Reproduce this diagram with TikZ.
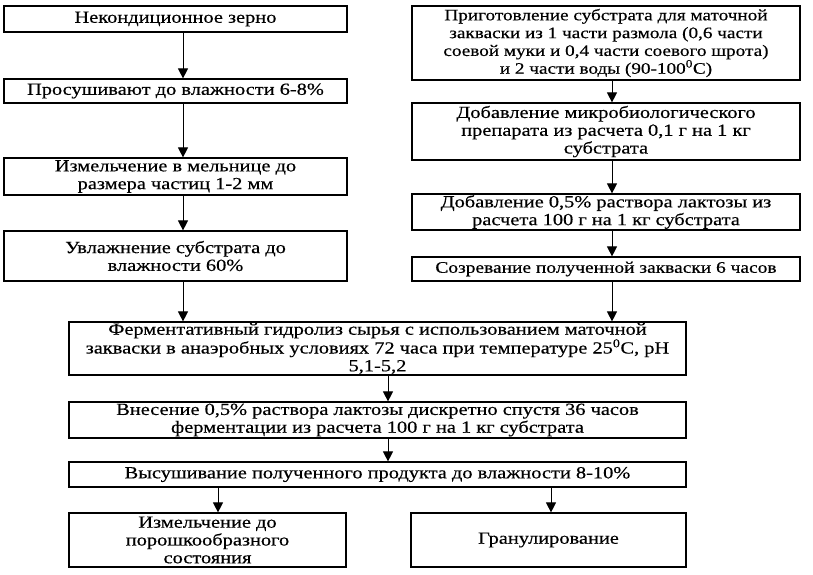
\documentclass[tikz,border=0pt]{standalone}
\usepackage{fontspec}
\setmainfont{Liberation Serif}[FakeStretch=1.2,FakeBold=0.4]
\usetikzlibrary{arrows.meta}
\tikzset{
  box/.style={draw, line width=1.2pt, inner sep=0pt, align=center,
    font=\fontsize{17pt}{17.8pt}\selectfont},
  arr/.style={line width=1pt, -{Triangle[length=10pt,width=10pt]}}
}
\begin{document}
\begin{tikzpicture}[x=1pt,y=-1pt]
\useasboundingbox[fill=white] (0,0) rectangle (813,574);
% left column
\node[box, minimum width=343pt, minimum height=26pt] (L1) at (175.5,19) {Некондиционное зерно};
\node[box, minimum width=343pt, minimum height=24pt] (L2) at (175.5,91) {Просушивают до влажности 6-8\%};
\node[box, minimum width=343pt, minimum height=37pt] (L3) at (175.5,176.5) {Измельчение в мельнице до\\размера частиц 1-2 мм};
\node[box, minimum width=343pt, minimum height=50pt] (L4) at (175.5,256) {Увлажнение субстрата до\\влажности 60\%};
% right column
\node[box, font=\fontsize{16pt}{17.8pt}\selectfont, minimum width=388pt, minimum height=74pt] (R1) at (606,43) {Приготовление субстрата для маточной\\закваски из 1 части размола (0,6 части\\соевой муки и 0,4 части соевого шрота)\\и 2 части воды (90-100\textsuperscript{0}С)};
\node[box, minimum width=388pt, minimum height=57pt] (R2) at (606,131.5) {Добавление микробиологического\\препарата из расчета 0,1 г на 1 кг\\субстрата};
\node[box, minimum width=388pt, minimum height=36pt] (R3) at (606,212) {Добавление 0,5\% раствора лактозы из\\расчета 100 г на 1 кг субстрата};
\node[box, font=\fontsize{16.2pt}{17.8pt}\selectfont, minimum width=388pt, minimum height=24pt] (R4) at (606,269) {Созревание полученной закваски 6 часов};
% main column
\node[box, minimum width=617pt, minimum height=53pt] (M1) at (377.5,348.5) {Ферментативный гидролиз сырья с использованием маточной\\закваски в анаэробных условиях 72 часа при температуре 25\textsuperscript{0}С, рН\\5,1-5,2};
\node[box, minimum width=617pt, minimum height=36pt] (M2) at (377.5,420) {Внесение 0,5\% раствора лактозы дискретно спустя 36 часов\\ферментации из расчета 100 г на 1 кг субстрата};
\node[box, minimum width=617pt, minimum height=25pt] (M3) at (377.5,474.5) {Высушивание полученного продукта до влажности 8-10\%};
\node[box, minimum width=277pt, minimum height=54pt] (B1) at (207.5,540) {Измельчение до\\порошкообразного\\состояния};
\node[box, minimum width=275pt, minimum height=54pt] (B2) at (548.5,540) {Гранулирование};
% connectors
\draw[arr] ([xshift=7.5pt]L1.south) -- ([xshift=7.5pt]L2.north);
\draw[arr] ([xshift=7.5pt]L2.south) -- ([xshift=7.5pt]L3.north);
\draw[arr] ([xshift=7.5pt]L3.south) -- ([xshift=7.5pt]L4.north);
\draw[arr] ([xshift=6pt]R1.south) -- ([xshift=6pt]R2.north);
\draw[arr] ([xshift=6pt]R2.south) -- ([xshift=6pt]R3.north);
\draw[arr] ([xshift=6pt]R3.south) -- ([xshift=6pt]R4.north);
\draw[arr] ([xshift=7.5pt]L4.south) -- ([xshift=7.5pt]L4.south |- M1.north);
\draw[arr] ([xshift=6pt]R4.south) -- ([xshift=6pt]R4.south |- M1.north);
\draw[arr] ([xshift=10.5pt]M1.south) -- ([xshift=10.5pt]M2.north);
\draw[arr] ([xshift=10.5pt]M2.south) -- ([xshift=10.5pt]M3.north);
\draw[arr] ([xshift=10.5pt]B1.north |- M3.south) -- ([xshift=10.5pt]B1.north);
\draw[arr] ([xshift=2.5pt]B2.north |- M3.south) -- ([xshift=2.5pt]B2.north);
\end{tikzpicture}
\end{document}
